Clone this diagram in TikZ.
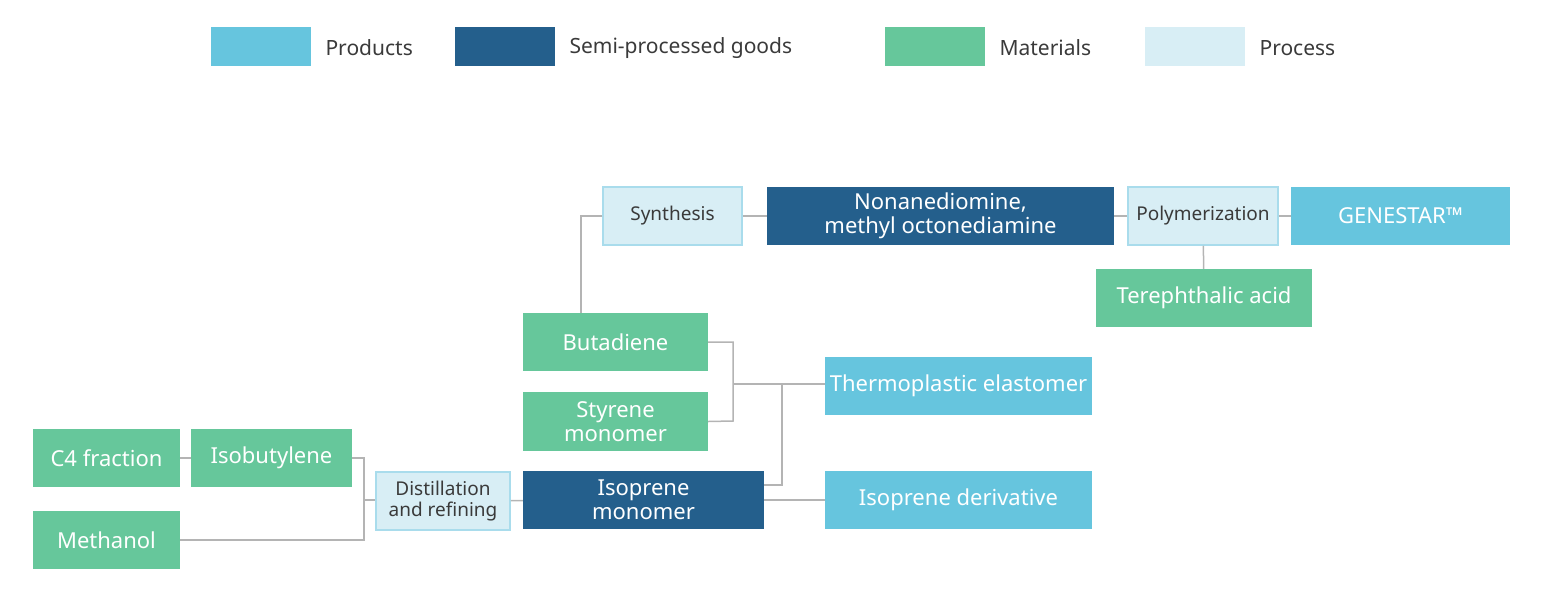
\documentclass[tikz,border=0pt]{standalone}
\usepackage{fontspec}
\setmainfont{Noto Sans}
\usetikzlibrary{positioning}
\definecolor{prodc}{HTML}{66C5DE}
\definecolor{semic}{HTML}{245F8C}
\definecolor{matc}{HTML}{66C79B}
\definecolor{procc}{HTML}{D8EEF5}
\definecolor{procb}{HTML}{A9DCEC}
\definecolor{linec}{HTML}{B4B4B4}
\definecolor{textc}{HTML}{3A3A3A}
\tikzset{
  box/.style={inner sep=0pt,align=center,text=white,font=\fontsize{22}{24}\selectfont},
  prod/.style={box,fill=prodc},
  semi/.style={box,fill=semic},
  mat/.style={box,fill=matc},
  proc/.style={box,fill=procc,draw=procb,line width=1.5pt,text=textc,font=\fontsize{19}{21}\selectfont},
  swatch/.style={minimum width=100pt,minimum height=39pt,inner sep=0pt},
  legend/.style={text=textc,anchor=west,font=\fontsize{21}{24}\selectfont},
  link/.style={draw=linec,line width=1.5pt}
}
\begin{document}
\begin{tikzpicture}[x=1pt,y=-1pt]
  \useasboundingbox (0,0) rectangle (1544,592);
  % legend
  \node[swatch,fill=prodc] (lp) at (261,46) {};
  \node[legend] (lpt) at (322,48) {Products};
  \node[swatch,fill=semic] (ls) at (505,46) {};
  \node[legend] (lst) at (566,48) {Semi-processed goods};
  \node[swatch,fill=matc] (lm) at (935,46) {};
  \node[legend] (lmt) at (996,48) {Materials};
  \node[swatch,fill=procc] (lr) at (1195,46) {};
  \node[legend] (lrt) at (1256,48) {Process};

  % boxes
  \node[proc,minimum width=139pt,minimum height=58pt] (syn) at (672.5,216) {Synthesis};
  \node[semi,minimum width=347pt,minimum height=58pt] (nona) at (940.5,216) {Nonanediomine,\\methyl octonediamine};
  \node[proc,minimum width=150pt,minimum height=58pt] (poly) at (1203,216) {Polymerization};
  \node[prod,minimum width=219pt,minimum height=58pt] (gene) at (1400.5,216) {GENESTAR™};
  \node[mat,minimum width=216pt,minimum height=58pt] (tere) at (1204,298) {Terephthalic acid};
  \node[mat,minimum width=185pt,minimum height=58pt] (buta) at (615.5,342) {Butadiene};
  \node[mat,minimum width=185pt,minimum height=59pt] (styr) at (615.5,421.5) {Styrene\\monomer};
  \node[prod,minimum width=267pt,minimum height=58pt] (thermo) at (958.5,386) {Thermoplastic elastomer};
  \node[prod,minimum width=267pt,minimum height=58pt] (deriv) at (958.5,500) {Isoprene derivative};
  \node[mat,minimum width=147pt,minimum height=58pt] (cfour) at (106.5,458) {C4 fraction};
  \node[mat,minimum width=161pt,minimum height=58pt] (isob) at (271.5,458) {Isobutylene};
  \node[mat,minimum width=147pt,minimum height=58pt] (meth) at (106.5,540) {Methanol};
  \node[proc,minimum width=134pt,minimum height=58pt] (dist) at (443,501) {Distillation\\and refining};
  \node[semi,minimum width=241pt,minimum height=58pt] (isop) at (643.5,500) {Isoprene\\monomer};

  % connectors
  \coordinate (s1) at (581,216);
  \coordinate (j1) at (733,342);
  \coordinate (j2) at (733,421);
  \coordinate (j3) at (733,384);
  \coordinate (j4) at (782,384);
  \coordinate (j5) at (782,485);
  \coordinate (j6) at (364,458);
  \coordinate (j7) at (364,540);
  \coordinate (j8) at (364,500);
  \draw[link] (syn.west) -- (s1) -- (buta.north -| s1);
  \draw[link] (syn) -- (nona) -- (poly) -- (gene);
  \draw[link] (poly) -- (tere);
  \draw[link] (buta.east) -- (j1) -- (j2) -- (styr.east);
  \draw[link] (j3) -- (thermo.west |- j3);
  \draw[link] (isop.east |- j5) -- (j5) -- (j4);
  \draw[link] (isop) -- (deriv);
  \draw[link] (cfour) -- (isob);
  \draw[link] (isob.east) -- (j6) -- (j7) -- (meth.east);
  \draw[link] (j8) -- (dist.west |- j8);
  \draw[link] (dist) -- (isop);
\end{tikzpicture}
\end{document}
